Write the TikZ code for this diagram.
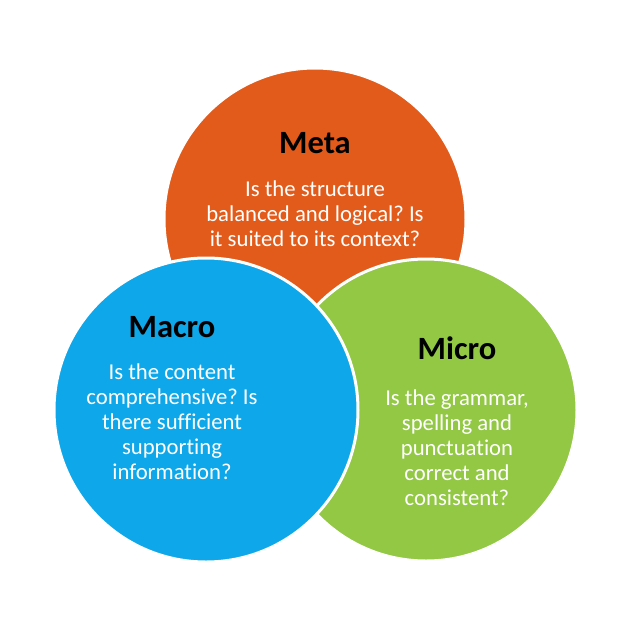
\documentclass[tikz,border=0pt]{standalone}
\usepackage{fontspec}
\setmainfont[Ligatures=NoCommon]{Carlito}
\frenchspacing
\definecolor{metaorange}{RGB}{226,91,27}
\definecolor{macroblue}{RGB}{14,167,233}
\definecolor{microgreen}{RGB}{146,200,68}
\begin{document}
\begin{tikzpicture}[x=1pt,y=-1pt,
  disc/.style={draw=white,line width=3pt},
  title/.style={font=\fontsize{32.5}{32.5}\selectfont\bfseries,text=black,anchor=base,inner sep=0pt},
  body/.style={font=\fontsize{22.7}{25}\selectfont,text=white,align=center,inner sep=0pt}]
  \fill[white] (0,0) rectangle (630,630);
  \useasboundingbox (0,0) rectangle (630,630);
  % the three overlapping circles, back to front
  \draw[disc,fill=metaorange] (315,219) circle[radius=151];
  \draw[disc,fill=microgreen] (426,410) circle[radius=151];
  \draw[disc,fill=macroblue] (206,410) circle[radius=152];
  % Meta
  \node[title] (metaT) at (315,153) {Meta};
  \node[body] (metaB) at (315,214) {Is the structure\\balanced and logical? Is\\it suited to its context?};
  % Macro
  \node[title] (macroT) at (172,337) {Macro};
  \node[body] (macroB) at (172,422) {Is the content\\comprehensive? Is\\there sufficient\\supporting\\information?};
  % Micro
  \node[title] (microT) at (457,359) {Micro};
  \node[body] (microB) at (457,448) {Is the grammar,\\spelling and\\punctuation\\correct and\\consistent?};
\end{tikzpicture}
\end{document}
